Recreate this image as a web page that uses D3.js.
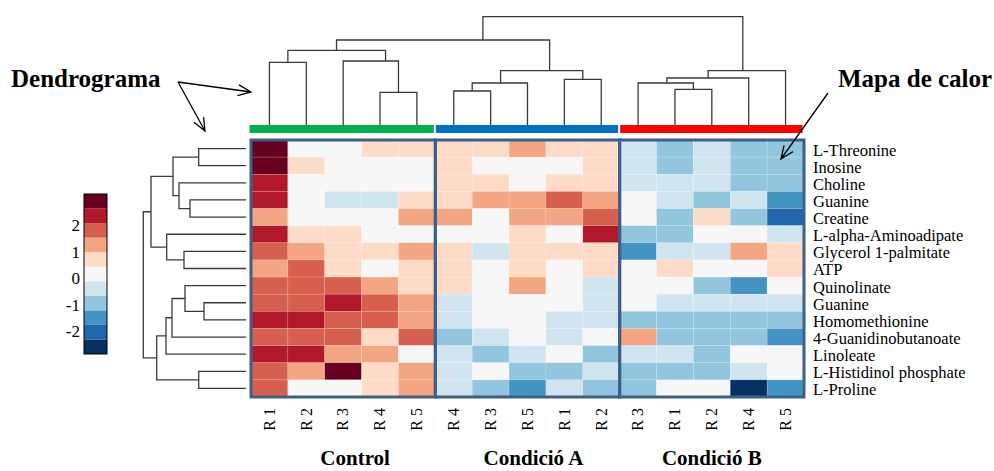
<!DOCTYPE html>
<html>
<head>
<meta charset="utf-8">
<script src="https://cdn.jsdelivr.net/npm/d3@7"></script>
<style>
  body { margin: 0; background: #fff; }
  text { font-family: "Liberation Serif", "Times New Roman", serif; fill: #000; }
</style>
</head>
<body>
<svg id="chart" width="994" height="471"></svg>
<script>
'use strict';

// metabolites, top to bottom
const rowLabels = ["L-Threonine", "Inosine", "Choline", "Guanine", "Creatine",
    "L-alpha-Aminoadipate", "Glycerol 1-palmitate", "ATP", "Quinolinate", "Guanine",
    "Homomethionine", "4-Guanidinobutanoate", "Linoleate", "L-Histidinol phosphate", "L-Proline"];

const groups = ["Control", "Condició A", "Condició B"];
const groupColors = ["#00b050", "#0070c0", "#ff0000"];
const colLabels = ["R 1", "R 2", "R 3", "R 4", "R 5",
    "R 4", "R 3", "R 5", "R 1", "R 2",
    "R 3", "R 1", "R 2", "R 4", "R 5"];

// z-scores, one row per metabolite, 5 replicates per group
const controlValues = [
    [2.9, 0, 0, 0.6, 0.6],
    [2.9, 0.6, 0, 0, 0],
    [2.3, 0, 0, 0, 0],
    [2.3, 0, -0.5, -0.5, 0.6],
    [1.2, 0, 0, 0, 1.2],
    [2.3, 0.6, 0.6, 0, 0],
    [1.8, 1.2, 0.6, 0.6, 1.2],
    [1.2, 1.8, 0.6, 0, 0.6],
    [1.8, 1.8, 1.8, 1.2, 0.6],
    [1.8, 1.8, 2.3, 1.8, 1.2],
    [2.3, 2.3, 1.8, 1.8, 1.2],
    [1.8, 1.8, 1.8, 0.6, 1.8],
    [2.3, 2.3, 1.2, 1.2, 0],
    [1.8, 1.2, 2.9, 0.6, 1.2],
    [1.8, 0, 0, 0.6, 1.2]
];
const condAValues = [
    [0.6, 0.6, 1.2, 0.6, 0.6],
    [0.6, 0, 0, 0, 0.6],
    [0.6, 0.6, 0, 0.6, 0.6],
    [0.6, 1.2, 1.2, 1.8, 1.2],
    [1.2, 0, 1.2, 1.2, 1.8],
    [0, 0, 0.6, 0, 2.3],
    [0.6, -0.5, 0.6, 0.6, 0.6],
    [0.6, 0, 0.6, 0, 0.6],
    [0.6, 0, 1.2, 0, -0.5],
    [-0.5, 0, 0, 0, -0.5],
    [-0.5, 0, 0, -0.5, -0.5],
    [-1.0, -0.5, 0, -0.5, 0],
    [-0.5, -1.0, -0.5, 0, -1.0],
    [-0.5, 0, -1.0, -1.0, -0.5],
    [-0.5, -1.0, -1.5, -0.5, -1.0]
];
const condBValues = [
    [-0.5, -1.0, -0.5, -1.0, -1.0],
    [-0.5, -1.0, -0.5, -1.0, -1.0],
    [-0.5, -0.5, -0.5, -1.0, -1.0],
    [0, -0.5, -1.0, -0.5, -1.5],
    [0, -1.0, 0.6, -1.0, -2.1],
    [-1.0, -1.0, 0, 0, -0.5],
    [-1.5, -0.5, -0.5, 1.2, 0.6],
    [0, 0.6, 0, 0, 0.6],
    [0, 0, -1.0, -1.5, 0],
    [0, -0.5, -0.5, -0.5, -0.5],
    [-1.0, -1.0, -1.0, -1.0, -1.0],
    [1.2, -1.0, -1.0, -1.0, -1.5],
    [-0.5, -0.5, -1.0, 0, 0],
    [-1.0, -1.0, -1.0, -0.5, 0],
    [-1.0, 0, 0, -2.7, -1.5]
];

// hclust style merges: negative = leaf (1-based), positive = earlier merge row
// [left, right, height]
const rowMerge = [
    [-1, -2, 4.73],
    [-4, -5, 5.6],
    [-3, 2, 6.7],
    [1, 3, 7.3],
    [-7, -8, 6.2],
    [-6, 5, 7.93],
    [4, 6, 9.5],
    [-10, -11, 4.2],
    [-9, 8, 6.1],
    [9, -12, 7.4],
    [10, -13, 8.0],
    [-14, -15, 4.73],
    [11, 12, 8.93],
    [7, 13, 10.27]
];
// [left, right, height, attach position in column units]
const colMerge = [
    [-1, -2, 6.27, 0.5],
    [-4, -5, 3.27, 3.5],
    [-3, 2, 6.4, 3.15],
    [1, 3, 7.47, 1.82],
    [-6, -7, 3.4, 5.5],
    [5, -8, 4.2, 6.27],
    [-9, -10, 4.57, 8.5],
    [6, 7, 5.43, 7.6],
    [4, 8, 8.5, 5.79],
    [-12, -13, 3.57, 11.5],
    [-11, 10, 4.2, 10.78],
    [11, -14, 4.7, 11.9],
    [12, -15, 5.43, 12.84],
    [9, 13, 10.83, 9.3]
];

const legendTicks = [2, 1, 0, -1, -2];

const svg = d3.select("#chart");
const nRows = rowLabels.length;
const nCols = colLabels.length;

let cells = [];
[controlValues, condAValues, condBValues].forEach(function(tbl, g) {
    tbl.forEach(function(row, r) {
        row.forEach(function(v, c) {
            cells.push({ row: r, col: g * 5 + c, value: v });
        });
    });
});

const x = d3.scaleBand().domain(d3.range(nCols)).range([251, 804]);
const y = d3.scaleBand().domain(d3.range(nRows)).range([140, 397]);
const xPos = d3.scaleLinear().domain([0, nCols - 1])
    .range([x(0) + x.bandwidth() / 2, x(nCols - 1) + x.bandwidth() / 2]);
const yPos = d3.scaleLinear().domain([0, nRows - 1])
    .range([y(0) + y.bandwidth() / 2, y(nRows - 1) + y.bandwidth() / 2]);

const palette = ["#053061", "#2166ac", "#4393c3", "#92c5de", "#d1e5f0", "#f7f7f7",
    "#fddbc7", "#f4a582", "#d6604d", "#b2182b", "#67001f"];
const color = d3.scaleQuantize().domain([-2.9, 3.15]).range(palette);

// heatmap
svg.append("g")
    .selectAll("rect")
    .data(cells)
    .enter().append("rect")
    .attr("x", d => x(d.col))
    .attr("y", d => y(d.row))
    .attr("width", x.bandwidth())
    .attr("height", y.bandwidth())
    .attr("fill", d => color(d.value))
    .attr("stroke", "#fff")
    .attr("stroke-opacity", 0.25)
    .attr("stroke-width", 0.6);

// group frames + colour bars
const labelShift = [12, 6, 0];   // group titles sit a bit right of centre
groups.forEach(function(name, g) {
    let x0 = x(g * 5), x1 = x(g * 5 + 4) + x.bandwidth();
    svg.append("rect")
        .attr("x", x0).attr("y", y(0))
        .attr("width", x1 - x0).attr("height", y(nRows - 1) + y.bandwidth() - y(0))
        .attr("fill", "none")
        .attr("stroke", "#3d5f8c")
        .attr("stroke-width", 3);
    svg.append("rect")
        .attr("x", x0 - 1.5 + (g === 0 ? 0 : 2)).attr("y", 125)
        .attr("width", x1 - x0 - (g === 0 ? 0 : 2)).attr("height", 8)
        .attr("fill", groupColors[g]);
    svg.append("text")
        .attr("x", (x0 + x1) / 2 + labelShift[g])
        .attr("y", 465)
        .attr("text-anchor", "middle")
        .style("font-size", "21px")
        .style("font-weight", "bold")
        .text(name);
});

// row labels
svg.append("g").selectAll("text")
    .data(rowLabels)
    .enter().append("text")
    .attr("x", 813)
    .attr("y", (d, i) => yPos(i) + 1.5)
    .attr("dy", "0.33em")
    .style("font-size", "16.5px")
    .text(d => d);

// column labels
svg.append("g").selectAll("text")
    .data(colLabels)
    .enter().append("text")
    .attr("transform", (d, i) => "translate(" + xPos(i) + ",408) rotate(-90)")
    .attr("text-anchor", "end")
    .attr("dy", "0.33em")
    .style("font-size", "16px")
    .text(d => d);

// dendrograms
function buildNodes(merge) {
    let nodes = [];
    function get(ref) {
        if (ref < 0) return { pos: -ref - 1, h: 0 };
        return nodes[ref - 1];
    }
    merge.forEach(function(m) {
        let a = get(m[0]), b = get(m[1]);
        let pos = m.length > 3 ? m[3] : (a.pos + b.pos) / 2;
        nodes.push({ a: a, b: b, h: m[2], pos: pos });
    });
    return nodes;
}

const topH = d3.scaleLinear().domain([0, 10.83]).range([125, 16.7]);
const leftH = d3.scaleLinear().domain([0, 10.27]).range([246, 143.3]);

svg.append("g").selectAll("path")
    .data(buildNodes(colMerge))
    .enter().append("path")
    .attr("d", d => "M" + xPos(d.a.pos) + "," + topH(d.a.h) +
        "V" + topH(d.h) + "H" + xPos(d.b.pos) + "V" + topH(d.b.h))
    .attr("fill", "none")
    .attr("stroke", "#3a3a3a")
    .attr("stroke-width", 1.3);

svg.append("g").selectAll("path")
    .data(buildNodes(rowMerge))
    .enter().append("path")
    .attr("d", d => "M" + leftH(d.a.h) + "," + yPos(d.a.pos) +
        "H" + leftH(d.h) + "V" + yPos(d.b.pos) + "H" + leftH(d.b.h))
    .attr("fill", "none")
    .attr("stroke", "#3a3a3a")
    .attr("stroke-width", 1.3);

// legend
const legendY = d3.scaleLinear().domain([-2.9, 3.15]).range([354, 194]);
const legend = svg.append("g");
legend.selectAll("rect")
    .data(palette)
    .enter().append("rect")
    .attr("x", 84)
    .attr("width", 23)
    .attr("y", d => legendY(color.invertExtent(d)[1]))
    .attr("height", d => legendY(color.invertExtent(d)[0]) - legendY(color.invertExtent(d)[1]))
    .attr("fill", d => d);
legend.append("rect")
    .attr("x", 84).attr("y", 194).attr("width", 23).attr("height", 160)
    .attr("fill", "none").attr("stroke", "#000").attr("stroke-width", 1);
legend.selectAll("text")
    .data(legendTicks)
    .enter().append("text")
    .attr("x", 80)
    .attr("y", d => legendY(d) + 1)
    .attr("dy", "0.35em")
    .attr("text-anchor", "end")
    .style("font-size", "17px")
    .text(d => d);

// annotations
function arrow(x1, y1, x2, y2) {
    let a = Math.atan2(y2 - y1, x2 - x1);
    let len = 14, spread = 0.4;
    let p = d3.path();
    p.moveTo(x1, y1); p.lineTo(x2, y2);
    p.moveTo(x2 - len * Math.cos(a - spread), y2 - len * Math.sin(a - spread));
    p.lineTo(x2, y2);
    p.lineTo(x2 - len * Math.cos(a + spread), y2 - len * Math.sin(a + spread));
    svg.append("path").attr("d", p.toString())
        .attr("fill", "none").attr("stroke", "#000").attr("stroke-width", 1.3);
}

svg.append("text").attr("x", 11).attr("y", 87)
    .style("font-size", "25px").style("font-weight", "bold")
    .text("Dendrograma");
svg.append("text").attr("x", 838).attr("y", 87)
    .style("font-size", "25px").style("font-weight", "bold")
    .text("Mapa de calor");
arrow(178, 82, 251, 92);
arrow(178, 82, 205, 131);
arrow(828, 93, 781, 159);
</script>
</body>
</html>
